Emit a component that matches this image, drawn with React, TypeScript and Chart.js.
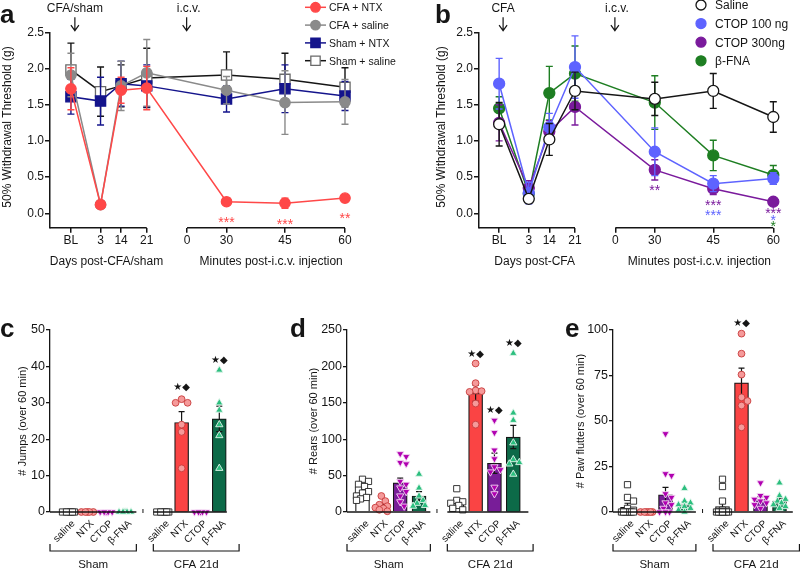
import React, { useEffect, useRef } from 'react';
import { Chart, registerables } from 'chart.js';

Chart.register(...registerables);

const FONT = "'Liberation Sans', Arial, Helvetica, sans-serif";
const SYMBOL_FONT = "'DejaVu Sans', 'Liberation Sans', sans-serif";
const INK = '#151515';
Chart.defaults.font.family = FONT;
Chart.defaults.color = INK;

// ---------------- Panels a & b : withdrawal threshold time course ----------------
const timeTickLabels = ['BL', '3', '14', '21', '0', '30', '45', '60'];
const timeTickSlots = [0, 0.75, 1.27, 1.92, 2.94, 3.94, 5.42, 6.94];
const timePointSlots = [0, 0.75, 1.27, 1.92, 3.94, 5.42, 6.94];
const thresholdTicks = [0, 0.5, 1, 1.5, 2, 2.5];

const aNames = ['CFA + NTX', 'CFA + saline', 'Sham + NTX', 'Sham + saline'];
const aCfaNtx = [1.72, 0.12, 1.7, 1.73, 0.16, 0.14, 0.21];
const aCfaNtxSem = [0.29, 0.02, 0.18, 0.3, 0.03, 0.07, 0.04];
const aCfaSaline = [1.91, 0.12, 1.76, 1.94, 1.7, 1.53, 1.54];
const aCfaSalineSem = [0.3, 0.02, 0.34, 0.46, 0.19, 0.44, 0.31];
const aShamNtx = [1.61, 1.55, 1.79, 1.76, 1.58, 1.72, 1.62];
const aShamNtxSem = [0.24, 0.33, 0.31, 0.29, 0.18, 0.33, 0.2];
const aShamSaline = [1.98, 1.68, 1.76, 1.87, 1.91, 1.85, 1.74];
const aShamSalineSem = [0.37, 0.34, 0.29, 0.41, 0.32, 0.36, 0.27];
const aSigText = ['***', '***', '**'];
const aSigAt = [4, 5, 6];
const aSigY = [-0.08, -0.1, -0.02];

const bNames = ['Saline', 'CTOP 100 ng', 'CTOP 300ng', 'β-FNA'];
const bSaline = [1.23, 0.2, 1.02, 1.69, 1.58, 1.69, 1.33];
const bSalineSem = [0.3, 0.04, 0.22, 0.26, 0.23, 0.24, 0.21];
const bCtop100 = [1.79, 0.28, 1.19, 2.02, 0.85, 0.41, 0.48];
const bCtop100Sem = [0.35, 0.15, 0.19, 0.43, 0.33, 0.11, 0.08];
const bCtop300 = [1.25, 0.35, 1.13, 1.47, 0.6, 0.34, 0.16];
const bCtop300Sem = [0.25, 0.1, 0.15, 0.25, 0.14, 0.08, 0.03];
const bBfna = [1.45, 0.27, 1.66, 1.93, 1.53, 0.8, 0.53];
const bBfnaSem = [0.16, 0.1, 0.37, 0.38, 0.37, 0.21, 0.13];
const bSigText = ['**', '***', '***', '***', '*', '*'];
const bSigAt = [4, 5, 5, 6, 6, 6];
const bSigY = [0.37, 0.15, 0.02, 0.04, -0.055, -0.14];
const bSigSeries = [2, 2, 1, 2, 1, 3];

// ---------------- Panels c, d, e : behaviours over 60 min ----------------
const conditions = ['saline', 'NTX', 'CTOP', 'β-FNA'];
const cohorts = ['Sham', 'CFA 21d'];
const barSlots = [0, 1, 2, 3, 5, 6, 7, 8];

const jumpsMean = [0, 0, 0, 0, 0, 24.6, 0, 25.6];
const jumpsSem = [0, 0, 0, 0, 0, 3.0, 0, 3.5];
const jumpsPoints = [
  [0, 0, 0, 0, 0, 0],
  [0, 0, 0, 0, 0],
  [0, 0, 0, 0, 0],
  [0, 0, 0, 0, 0],
  [0, 0, 0, 0, 0, 0],
  [31, 30, 30, 24, 22, 12],
  [0, 0, 0, 0, 0],
  [39, 30, 28, 24, 21, 12],
];
const jumpsMarked = [5, 7];
const jumpsMarkY = [34.3, 41.6];

const rearsMean = [27, 8, 40, 22, 13, 163, 67, 103];
const rearsSem = [3.5, 2.5, 6.5, 6, 4, 11, 14, 16];
const rearsPoints = [
  [45, 42, 38, 35, 30, 28, 26, 22, 20, 18, 16],
  [22, 15, 10, 8, 6, 5, 3, 1],
  [80, 76, 68, 66, 42, 38, 33, 28, 22, 14, 8],
  [52, 33, 22, 16, 12, 9, 8],
  [32, 16, 14, 12, 9, 5, 3],
  [204, 177, 167, 166, 165, 149, 120],
  [126, 109, 85, 73, 62, 58, 55, 34, 25],
  [218, 136, 126, 95, 72, 68, 66, 52],
];
const rearsMarked = [5, 6, 7];
const rearsMarkY = [216, 139, 232];

const fluttersMean = [2.5, 0, 9.5, 4, 3, 71, 7, 6];
const fluttersSem = [2.3, 0, 4, 1.5, 2.2, 8, 1.5, 1.5];
const fluttersPoints = [
  [15, 8, 6, 2, 1, 0, 0, 0, 0, 0, 0, 0],
  [0, 0, 0, 0, 0, 0],
  [43, 21, 20, 10, 8, 5, 4, 2, 0, 0, 0],
  [13, 6, 5, 4, 3, 2, 1, 0],
  [18, 14, 6, 1, 0, 0, 0, 0, 0, 0, 0, 0],
  [98, 87, 75.5, 63, 61, 58.5, 46.5],
  [16, 9, 8, 7, 6, 5, 4, 2],
  [16, 9, 7, 6, 5, 4, 3, 2],
];
const fluttersMarked = [5];
const fluttersMarkY = [103.5];

// ---------------- styles ----------------
const aStyles = [
  { fill: '#FF4848', stroke: '#FF4848', line: '#FF4848', shape: 'circle', radius: 5.2 },
  { fill: '#8A8A8A', stroke: '#8A8A8A', line: '#8A8A8A', shape: 'circle', radius: 5.2 },
  { fill: '#14148C', stroke: '#14148C', line: '#14148C', shape: 'rect', radius: 7.2 },
  { fill: '#FFFFFF', stroke: '#6A6A6A', line: '#151515', shape: 'rect', radius: 7.2 },
];
const bStyles = [
  { fill: '#FFFFFF', stroke: '#151515', line: '#151515', shape: 'circle', radius: 5.5 },
  { fill: '#5E63FF', stroke: '#5E63FF', line: '#5E63FF', shape: 'circle', radius: 5.5 },
  { fill: '#7A1A9C', stroke: '#7A1A9C', line: '#7A1A9C', shape: 'circle', radius: 5.5 },
  { fill: '#1E7E22', stroke: '#1E7E22', line: '#1E7E22', shape: 'circle', radius: 5.5 },
];
const condStyles = [
  { bar: '#FFFFFF', shape: 'rect', radius: 4.4, rotation: 0, fill: '#FFFFFF', stroke: '#222222' },
  { bar: '#FA4444', shape: 'circle', radius: 3.4, rotation: 0, fill: '#F59A9A', stroke: '#C83C3C' },
  { bar: '#781D98', shape: 'triangle', radius: 4.2, rotation: 180, fill: '#B000B0', stroke: '#F4D8F4' },
  { bar: '#0C6A48', shape: 'triangle', radius: 4.2, rotation: 0, fill: '#2BBE7E', stroke: '#E2F6EC' },
];

// ---------------- drawing helpers ----------------
function seg(ctx: any, x1: number, y1: number, x2: number, y2: number, color = INK, w = 1.5) {
  ctx.save();
  ctx.strokeStyle = color;
  ctx.lineWidth = w;
  ctx.beginPath();
  ctx.moveTo(x1, y1);
  ctx.lineTo(x2, y2);
  ctx.stroke();
  ctx.restore();
}
function txt(ctx: any, s: string, x: number, y: number, o: any = {}) {
  ctx.save();
  ctx.fillStyle = o.color || INK;
  ctx.font = `${o.weight || 'normal'} ${o.size || 12}px ${o.family || FONT}`;
  ctx.textAlign = o.align || 'center';
  ctx.textBaseline = o.baseline || 'alphabetic';
  ctx.fillText(s, x, y);
  ctx.restore();
}
function vtxt(ctx: any, s: string, x: number, y: number, size: number) {
  ctx.save();
  ctx.translate(x, y);
  ctx.rotate(-Math.PI / 2);
  ctx.fillStyle = INK;
  ctx.font = `${size}px ${FONT}`;
  ctx.textAlign = 'center';
  ctx.textBaseline = 'middle';
  ctx.fillText(s, 0, 0);
  ctx.restore();
}
function arrowDown(ctx: any, x: number, y1: number, y2: number) {
  ctx.save();
  ctx.strokeStyle = INK;
  ctx.lineWidth = 1.2;
  ctx.beginPath();
  ctx.moveTo(x, y1);
  ctx.lineTo(x, y2);
  ctx.moveTo(x - 4, y2 - 5.5);
  ctx.lineTo(x, y2);
  ctx.lineTo(x + 4, y2 - 5.5);
  ctx.stroke();
  ctx.restore();
}
function marker(ctx: any, st: any, x: number, y: number) {
  ctx.save();
  ctx.fillStyle = st.fill;
  ctx.strokeStyle = st.stroke;
  ctx.lineWidth = 1.3;
  ctx.beginPath();
  if (st.shape === 'circle') ctx.arc(x, y, st.radius, 0, Math.PI * 2);
  else {
    const h = st.radius * Math.SQRT1_2;
    ctx.rect(x - h, y - h, 2 * h, 2 * h);
  }
  ctx.fill();
  ctx.stroke();
  ctx.restore();
}
function stars(ctx: any, s: string, cx: number, cy: number, color: string) {
  txt(ctx, s, cx, cy + 8, { size: 14, color });
}

// ---------------- time course chart ----------------
function timeCourseConfig(p: any) {
  const datasets = p.series.map((vals: number[], k: number) => ({
    label: p.names[k],
    data: vals.map((v, i) => ({ x: timePointSlots[i], y: v })),
    sem: p.sems[k],
    borderColor: p.styles[k].line,
    borderWidth: 1.5,
    pointStyle: p.styles[k].shape,
    pointRadius: p.styles[k].radius,
    pointBackgroundColor: p.styles[k].fill,
    pointBorderColor: p.styles[k].stroke,
    pointBorderWidth: 1.3,
    tension: 0,
    fill: false,
    clip: false,
  }));
  return {
    type: 'line',
    data: { datasets },
    options: {
      animation: false,
      responsive: false,
      devicePixelRatio: 1,
      events: [],
      layout: { padding: { top: 32.3, right: p.rightPad, bottom: 0, left: 0 } },
      plugins: { legend: { display: false }, tooltip: { enabled: false } },
      scales: {
        x: {
          type: 'linear',
          min: p.xMin,
          max: timeTickSlots[7],
          afterBuildTicks: (s: any) => {
            s.ticks = timeTickSlots.map((v) => ({ value: v }));
          },
          afterFit: (s: any) => {
            s.height = 290 - 227.8;
          },
          ticks: {
            autoSkip: false,
            maxRotation: 0,
            minRotation: 0,
            padding: 1,
            font: { size: 12 },
            color: INK,
            callback: (v: number) => timeTickLabels[timeTickSlots.indexOf(v)] ?? '',
          },
          grid: { display: true, drawOnChartArea: false, drawTicks: true, tickLength: 5, color: INK, lineWidth: 1.5 },
          border: { display: false },
        },
        y: {
          min: -0.2,
          max: 2.5,
          afterBuildTicks: (s: any) => {
            s.ticks = thresholdTicks.map((v) => ({ value: v }));
          },
          afterFit: (s: any) => {
            s.width = p.axisX;
          },
          ticks: { padding: 1, font: { size: 12 }, color: INK, callback: (v: number) => Number(v).toFixed(1) },
          grid: { drawOnChartArea: false, drawTicks: true, tickLength: 5, color: INK, lineWidth: 1.5 },
          border: { display: true, color: INK, width: 1.5 },
        },
      },
    },
    plugins: [
      {
        id: 'timeDeco',
        beforeDatasetDraw(chart: any, args: any) {
          const ds = chart.data.datasets[args.index];
          const xs = chart.scales.x;
          const ys = chart.scales.y;
          const ctx = chart.ctx;
          ctx.save();
          ctx.strokeStyle = ds.borderColor;
          ctx.lineWidth = 1.4;
          ds.data.forEach((pt: any, i: number) => {
            const e = ds.sem[i];
            const px = xs.getPixelForValue(pt.x);
            const t = ys.getPixelForValue(pt.y + e);
            const b = ys.getPixelForValue(pt.y - e);
            ctx.beginPath();
            ctx.moveTo(px, t);
            ctx.lineTo(px, b);
            ctx.moveTo(px - 3.5, t);
            ctx.lineTo(px + 3.5, t);
            ctx.moveTo(px - 3.5, b);
            ctx.lineTo(px + 3.5, b);
            ctx.stroke();
          });
          ctx.restore();
        },
        afterDraw(chart: any) {
          const ctx = chart.ctx;
          const xs = chart.scales.x;
          const ca = chart.chartArea;
          const X = (v: number) => xs.getPixelForValue(v);
          // broken x axis
          seg(ctx, ca.left, ca.bottom, X(timeTickSlots[3]), ca.bottom);
          seg(ctx, X(timeTickSlots[4]), ca.bottom, X(timeTickSlots[7]), ca.bottom);
          // axis titles
          txt(ctx, p.dayTitle, X(0.9), 265.3, { size: 12 });
          txt(ctx, 'Minutes post-i.c.v. injection', X(5.07), 265.3, { size: 12 });
          vtxt(ctx, '50% Withdrawal Threshold (g)', p.yTitleX, 127, 12);
          // panel letter
          txt(ctx, p.letter, p.letterX, 23.3, { size: 26, weight: 'bold', align: 'left' });
          // event annotations
          txt(ctx, p.eventLabel, X(0.1), 11.7, { size: 12 });
          arrowDown(ctx, X(0.1), 17.3, 30.7);
          txt(ctx, 'i.c.v.', X(2.98), 11.7, { size: 12 });
          arrowDown(ctx, X(2.93), 17.3, 30.7);
          p.decorate(chart, X);
        },
      },
    ],
  };
}

function decorateA(chart: any, X: (v: number) => number) {
  const ctx = chart.ctx;
  const ys = chart.scales.y;
  aSigText.forEach((s, i) => {
    stars(ctx, s, X(timePointSlots[aSigAt[i]]), ys.getPixelForValue(aSigY[i]), aStyles[0].line);
  });
  aNames.forEach((name, k) => {
    const y = 7.3 + k * 17.8;
    const st = aStyles[k];
    seg(ctx, 305, y, 326, y, st.line, 1.5);
    marker(ctx, { ...st, radius: st.shape === 'circle' ? 4.8 : 6.6 }, 315.5, y);
    txt(ctx, name, 329, y + 3.9, { size: 10.5, align: 'left' });
  });
}

function decorateB(chart: any, X: (v: number) => number) {
  const ctx = chart.ctx;
  const ys = chart.scales.y;
  bSigText.forEach((s, i) => {
    stars(ctx, s, X(timePointSlots[bSigAt[i]]), ys.getPixelForValue(bSigY[i]), bStyles[bSigSeries[i]].line);
  });
  bNames.forEach((name, k) => {
    const y = 5 + k * 18.6;
    marker(ctx, { ...bStyles[k], radius: 5 }, 301, y);
    txt(ctx, name, 315, y + 4.3, { size: 12, align: 'left' });
  });
}

// ---------------- bar + scatter chart ----------------
function swarm(values: number[], pxPerUnit: number, pxPerSlot: number) {
  const placed: number[][] = [];
  const cands = [0, 2, -2, 4, -4, 6, -6];
  return values.map((v) => {
    const py = v * pxPerUnit;
    let best = 0;
    let bestD = -1;
    for (const cx of cands) {
      let d = Infinity;
      for (const q of placed) d = Math.min(d, Math.hypot(q[0] - cx, q[1] - py));
      if (d >= 5.5) {
        best = cx;
        break;
      }
      if (d > bestD) {
        bestD = d;
        best = cx;
      }
    }
    placed.push([best, py]);
    return best / pxPerSlot;
  });
}

const BAR_TOP = 40;
const BAR_BOTTOM = 222;
const BAR_H = 279;

function barConfig(P: any) {
  const pxPerUnit = (BAR_BOTTOM - BAR_TOP) / P.yMax;
  const xMin = (P.axisX - P.slot0) / P.slotPx;
  const rightPx = P.slot0 + P.maxSlot * P.slotPx;
  const datasets: any[] = [
    {
      type: 'bar',
      data: barSlots.map((x, i) => ({ x, y: P.means[i] })),
      backgroundColor: barSlots.map((_, i) => condStyles[i % 4].bar),
      borderColor: INK,
      borderWidth: 1.2,
      barThickness: 14,
      order: 2,
    },
  ];
  P.points.forEach((vals: number[], i: number) => {
    const st = condStyles[i % 4];
    const offs = swarm(vals, pxPerUnit, P.slotPx);
    datasets.push({
      type: 'scatter',
      order: 1,
      clip: false,
      data: vals.map((v, j) => ({ x: barSlots[i] + offs[j], y: v })),
      pointStyle: st.shape,
      pointRadius: st.radius,
      pointRotation: st.rotation,
      pointBackgroundColor: st.fill,
      pointBorderColor: st.stroke,
      pointBorderWidth: 0.9,
    });
  });
  return {
    type: 'bar',
    data: { datasets },
    options: {
      animation: false,
      responsive: false,
      devicePixelRatio: 1,
      events: [],
      layout: { padding: { top: BAR_TOP, right: P.width - rightPx, bottom: 0, left: 0 } },
      plugins: { legend: { display: false }, tooltip: { enabled: false } },
      scales: {
        x: {
          type: 'linear',
          offset: false,
          min: xMin,
          max: P.maxSlot,
          afterFit: (s: any) => {
            s.height = BAR_H - BAR_BOTTOM;
          },
          ticks: { display: false },
          grid: { display: false, drawTicks: false },
          border: { display: false },
        },
        y: {
          min: 0,
          max: P.yMax,
          ticks: { stepSize: P.yStep, padding: 1, font: { size: 12.5 }, color: INK },
          afterFit: (s: any) => {
            s.width = P.axisX;
          },
          grid: { drawOnChartArea: false, drawTicks: true, tickLength: 4, color: INK, lineWidth: 1.3 },
          border: { display: true, color: INK, width: 1.3 },
        },
      },
    },
    plugins: [
      {
        id: 'barDeco',
        afterDatasetDraw(chart: any, args: any) {
          if (args.index !== 0) return;
          const ctx = chart.ctx;
          const xs = chart.scales.x;
          const ys = chart.scales.y;
          ctx.save();
          ctx.strokeStyle = INK;
          ctx.lineWidth = 1.2;
          barSlots.forEach((s, i) => {
            const e = P.sem[i];
            if (!e) return;
            const px = xs.getPixelForValue(s);
            const t = ys.getPixelForValue(P.means[i] + e);
            const b = ys.getPixelForValue(Math.max(0, P.means[i] - e));
            ctx.beginPath();
            ctx.moveTo(px, t);
            ctx.lineTo(px, b);
            ctx.moveTo(px - 3, t);
            ctx.lineTo(px + 3, t);
            ctx.moveTo(px - 3, b);
            ctx.lineTo(px + 3, b);
            ctx.stroke();
          });
          ctx.restore();
        },
        afterDraw(chart: any) {
          const ctx = chart.ctx;
          const xs = chart.scales.x;
          const ys = chart.scales.y;
          const ca = chart.chartArea;
          const X = (v: number) => xs.getPixelForValue(v);
          const y0 = ca.bottom;
          // broken x axis
          seg(ctx, ca.left, y0, X(3.6), y0, INK, 1.3);
          seg(ctx, X(4.5), y0, ca.right, y0, INK, 1.3);
          seg(ctx, X(3.95), y0 - 3, X(3.95), y0 + 1, INK, 1);
          // rotated condition labels
          barSlots.forEach((s, i) => {
            ctx.save();
            ctx.translate(X(s) + 5, y0 + 10);
            ctx.rotate(-Math.PI / 4);
            ctx.fillStyle = INK;
            ctx.font = `10px ${FONT}`;
            ctx.textAlign = 'right';
            ctx.textBaseline = 'middle';
            ctx.fillText(conditions[i % 4], 0, 0);
            ctx.restore();
          });
          // cohort brackets
          const brY = 261;
          const spans = [
            [ca.left, X(3.6)],
            [X(4.5), X(9.05)],
          ];
          spans.forEach(([l, r], k) => {
            ctx.save();
            ctx.strokeStyle = INK;
            ctx.lineWidth = 1.2;
            ctx.beginPath();
            ctx.moveTo(l, brY - 7);
            ctx.lineTo(l, brY);
            ctx.lineTo(r, brY);
            ctx.lineTo(r, brY - 7);
            ctx.stroke();
            ctx.restore();
            txt(ctx, cohorts[k], (l + r) / 2, 278, { size: 11.5 });
          });
          // significance symbols
          P.marked.forEach((bi: number, k: number) => {
            txt(ctx, '★◆', X(barSlots[bi]), ys.getPixelForValue(P.markY[k]), {
              size: 10,
              family: SYMBOL_FONT,
              baseline: 'middle',
            });
          });
          vtxt(ctx, P.yTitle, P.yTitleX, (BAR_TOP + BAR_BOTTOM) / 2, 11);
          txt(ctx, P.letter, P.letterX, 47, { size: 26, weight: 'bold', align: 'left' });
        },
      },
    ],
  };
}

// ---------------- React ----------------
function Panel({ left, top, width, height, build }: any) {
  const ref = useRef<HTMLCanvasElement>(null);
  useEffect(() => {
    const chart = new Chart(ref.current as HTMLCanvasElement, build());
    return () => chart.destroy();
  }, []);
  return (
    <canvas
      ref={ref}
      width={width}
      height={height}
      style={{ position: 'absolute', left, top, width, height }}
    />
  );
}

const buildA = () =>
  timeCourseConfig({
    series: [aCfaNtx, aCfaSaline, aShamNtx, aShamSaline],
    sems: [aCfaNtxSem, aCfaSalineSem, aShamNtxSem, aShamSalineSem],
    styles: aStyles,
    names: aNames,
    axisX: 50,
    rightPad: 55,
    xMin: -0.53,
    dayTitle: 'Days post-CFA/sham',
    eventLabel: 'CFA/sham',
    yTitleX: 8,
    letter: 'a',
    letterX: 0,
    decorate: decorateA,
  });

const buildB = () =>
  timeCourseConfig({
    series: [bSaline, bCtop100, bCtop300, bBfna],
    sems: [bSalineSem, bCtop100Sem, bCtop300Sem, bBfnaSem],
    styles: bStyles,
    names: bNames,
    axisX: 79,
    rightPad: 26.7,
    xMin: -0.51,
    dayTitle: 'Days post-CFA',
    eventLabel: 'CFA',
    yTitleX: 42,
    letter: 'b',
    letterX: 35,
    decorate: decorateB,
  });

const buildC = () =>
  barConfig({
    means: jumpsMean, sem: jumpsSem, points: jumpsPoints, marked: jumpsMarked, markY: jumpsMarkY,
    yMax: 50, yStep: 10, yTitle: '# Jumps (over 60 min)', yTitleX: 23, letter: 'c', letterX: 0,
    width: 265, axisX: 50, slot0: 68.5, slotPx: 18.85, maxSlot: 8.4,
  });
const buildD = () =>
  barConfig({
    means: rearsMean, sem: rearsSem, points: rearsPoints, marked: rearsMarked, markY: rearsMarkY,
    yMax: 250, yStep: 50, yTitle: '# Rears (over 60 min)', yTitleX: 49, letter: 'd', letterX: 25,
    width: 275, axisX: 82, slot0: 97.5, slotPx: 18.85, maxSlot: 8.8,
  });
const buildE = () =>
  barConfig({
    means: fluttersMean, sem: fluttersSem, points: fluttersPoints, marked: fluttersMarked, markY: fluttersMarkY,
    yMax: 100, yStep: 25, yTitle: '# Paw flutters (over 60 min)', yTitleX: 46, letter: 'e', letterX: 30,
    width: 265, axisX: 78, slot0: 92.5, slotPx: 19.0, maxSlot: 8.7,
  });

export default function App() {
  return (
    <div
      style={{
        position: 'absolute',
        left: 0,
        top: 0,
        width: 800,
        height: 569,
        background: '#ffffff',
        overflow: 'hidden',
      }}
    >
      <Panel left={0} top={0} width={400} height={290} build={buildA} />
      <Panel left={400} top={0} width={400} height={290} build={buildB} />
      <Panel left={0} top={290} width={265} height={279} build={buildC} />
      <Panel left={265} top={290} width={275} height={279} build={buildD} />
      <Panel left={535} top={290} width={265} height={279} build={buildE} />
    </div>
  );
}
